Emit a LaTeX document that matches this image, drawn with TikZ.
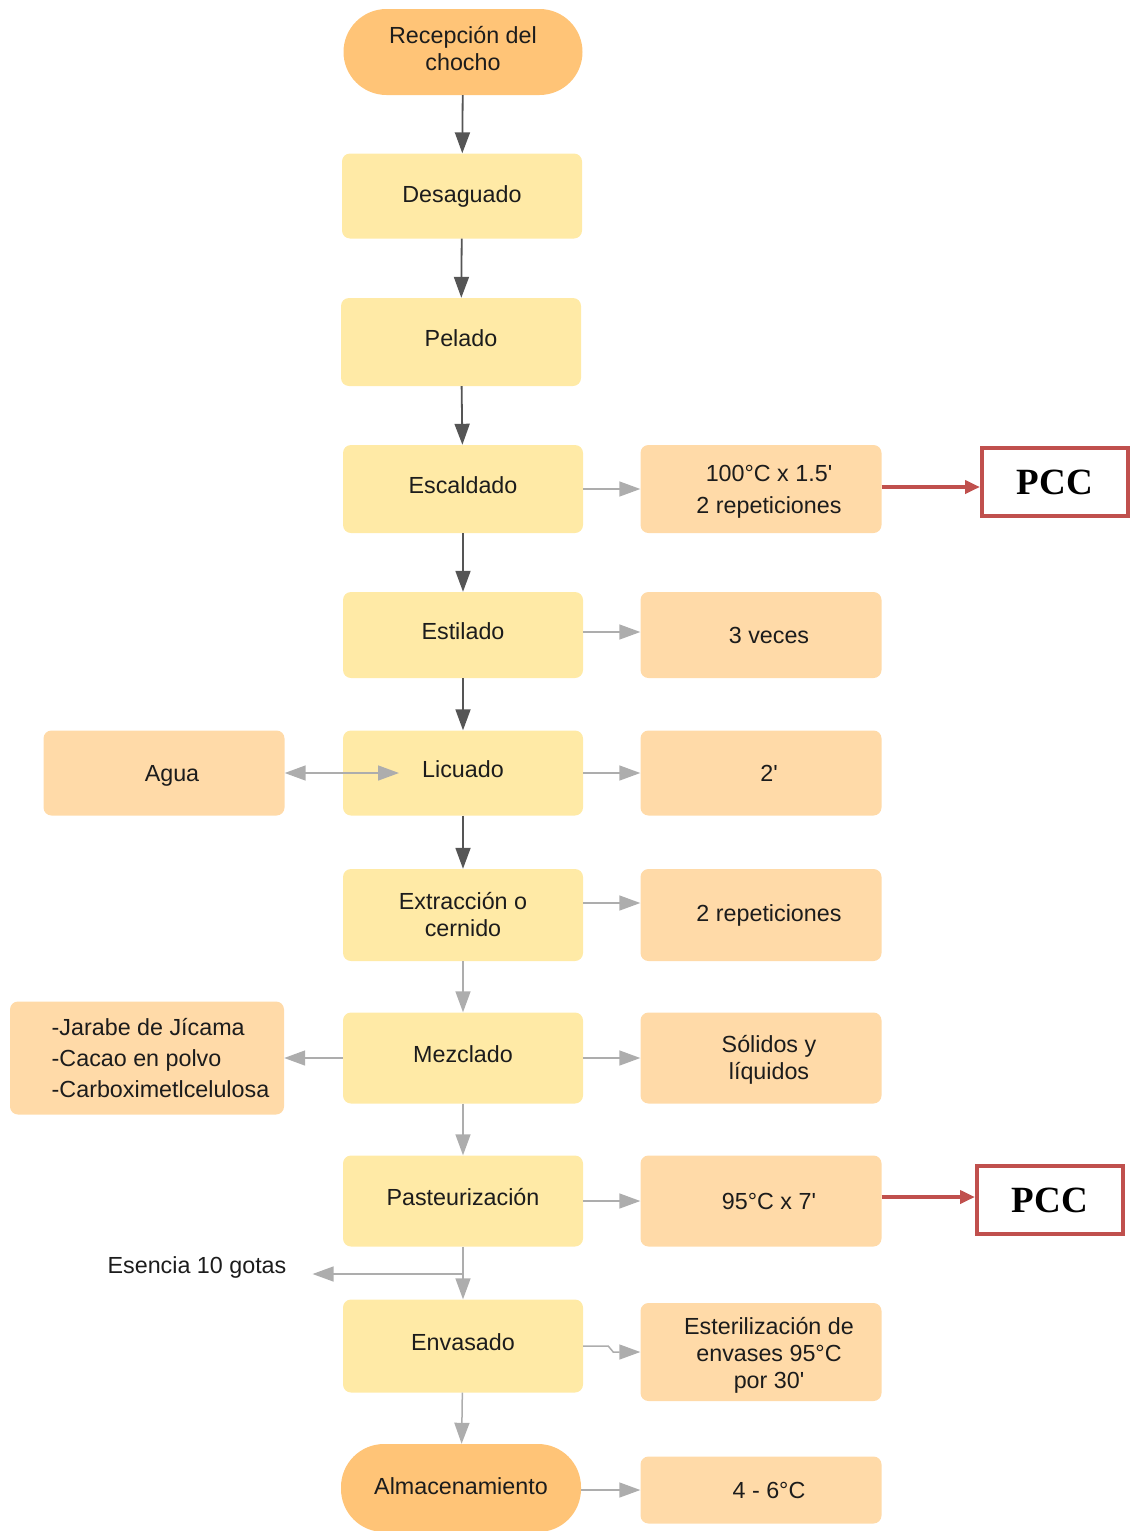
\documentclass[tikz,border=0pt]{standalone}
\usepackage{fontspec}
\setmainfont{Liberation Sans}[Ligatures=TeXOff]
\newfontfamily\pccfont{Liberation Serif}
\usetikzlibrary{arrows.meta}

\definecolor{termfill}{HTML}{FFC477}
\definecolor{procfill}{HTML}{FFEAA6}
\definecolor{sidefill}{HTML}{FFDAA8}
\definecolor{pccred}{HTML}{C0504D}
\definecolor{darkline}{HTML}{555555}
\definecolor{lightline}{HTML}{ADADAD}
\definecolor{inktext}{HTML}{1C1C1C}

% side labels sit a little right of their box centre
\newcommand\padl{\hspace*{16pt}}

\tikzset{
  base/.style={font=\fontsize{23.3}{27}\selectfont, text=inktext, align=center, inner sep=0pt},
  proc/.style={base, fill=procfill, rounded corners=8pt, minimum width=240pt, minimum height=88pt},
  oneline/.style={text height=17pt, text depth=7.4pt},
  side/.style={base, fill=sidefill, rounded corners=8pt, minimum width=241pt, minimum height=88pt},
  term/.style={base, fill=termfill, rounded corners=43pt, minimum width=239pt, minimum height=86pt},
  pcc/.style={draw=pccred, line width=4pt, fill=white, inner sep=0pt,
    font=\pccfont\bfseries\fontsize{37}{40}\selectfont, minimum width=146pt, minimum height=68pt},
  flowdark/.style={draw=darkline, line width=1.8pt, -{Triangle[length=21pt,width=15pt]}},
  flowlight/.style={draw=lightline, line width=1.5pt, -{Triangle[length=21pt,width=15pt]}},
  pccarrow/.style={draw=pccred, line width=4pt, -{Triangle[length=15pt,width=13pt]}}
}

\begin{document}
\begin{tikzpicture}[x=1pt, y=-1pt]
\useasboundingbox (0,0) rectangle (1139,1531);

% main process column
\node[term] (recep) at (463,52) {Recepción del\\chocho\rule[-6.5pt]{0pt}{0pt}};
\node[proc, text height=17pt, text depth=4.4pt, minimum height=85pt] (desag) at (462,196) {Desaguado};
\node[proc, oneline] (pelado) at (461,342) {Pelado};
\node[proc, oneline] (escal) at (463,489) {Escaldado};
\node[proc, oneline, minimum height=86pt] (estil) at (463,635) {Estilado};
\node[proc, oneline, minimum height=85pt] (licua) at (463,773) {Licuado};
\node[proc, minimum height=92pt] (extr) at (463,915) {Extracción o\\cernido};
\node[proc, oneline, minimum height=91pt] (mezcl) at (463,1058) {Mezclado};
\node[proc, oneline, minimum height=91pt] (paste) at (463,1201) {Pasteurización};
\node[proc, oneline, minimum height=93pt] (envas) at (463,1346) {Envasado};
\node[term, text height=17pt, text depth=4.4pt, minimum height=88pt, minimum width=240pt] (almac) at (461,1488) {Almacenamiento};

% process conditions
\node[side, font=\fontsize{23.3}{32}\selectfont] (cond1) at (761,489)
  {\padl\rule{0pt}{22.5pt}100°C x 1.5'\\\padl 2 repeticiones};
\node[side, minimum height=86pt] (cond2) at (761,635) {\padl 3 veces};
\node[side, minimum height=85pt] (cond3) at (761,773) {\padl 2'};
\node[side, minimum height=92pt] (cond4) at (761,915) {\padl 2 repeticiones};
\node[side, minimum height=91pt] (cond5) at (761,1058) {\padl\rule{0pt}{21pt}Sólidos y\\\padl líquidos};
\node[side, minimum height=91pt] (cond6) at (761,1201) {\padl 95°C x 7'};
\node[side, minimum height=98pt] (cond7) at (761,1352)
  {\padl\rule{0pt}{23pt}Esterilización de\\\padl envases 95°C\\\padl por 30'};
\node[side, minimum height=67pt] (cond8) at (761,1490) {\padl 4 - 6°C};

% inputs
\node[side, text height=17pt, text depth=0.4pt, minimum height=85pt] (agua) at (164,773) {\padl Agua};
\node[side, align=left, minimum width=274pt, minimum height=113pt, font=\fontsize{23.3}{31}\selectfont] (ingr) at (147,1058)
  {\hspace*{27pt}-Jarabe de Jícama\\\hspace*{27pt}-Cacao en polvo\\\hspace*{27pt}-Carboximetlcelulosa};
\node[base] (esencia) at (197,1267) {Esencia 10 gotas};

% critical control points
\node[pcc] (pcc1) at (1055,482) {PCC};
\node[pcc] (pcc2) at (1050,1200) {PCC};

% main flow
\draw[flowdark] (recep) -- (desag);
\draw[flowdark] (desag) -- (pelado);
\draw[flowdark] (pelado) -- (escal);
\draw[flowdark] (escal) -- (estil);
\draw[flowdark] (estil) -- (licua);
\draw[flowdark] (licua) -- (extr);
\draw[flowlight] (extr) -- (mezcl);
\draw[flowlight] (mezcl) -- (paste);
\draw[flowlight] (paste) -- (envas);
\draw[flowlight] (envas) -- (almac);

% side connectors
\draw[flowlight] (escal.east) -- (cond1.west);
\draw[flowlight] ([yshift=3pt]estil.east) -- ([yshift=3pt]cond2.west);
\draw[flowlight] (licua.east) -- (cond3.west);
\draw[flowlight] ([yshift=12pt]extr.east) -- ([yshift=12pt]cond4.west);
\draw[flowlight] (mezcl.east) -- (cond5.west);
\draw[flowlight] (paste.east) -- (cond6.west);
\draw[flowlight] (envas.east) -- ++(25,0) -- ++(5,6) -- (cond7.west);
\draw[flowlight] (almac.east |- cond8.west) -- (cond8.west);

% water in, ingredients and essence out
\coordinate (licuain) at (399,773);
\draw[flowlight, {Triangle[length=21pt,width=15pt]}-{Triangle[length=21pt,width=15pt]}] (agua.east) -- (licuain);
\draw[flowlight] (mezcl.west) -- (ingr.east);
\coordinate (esjoin) at (463,1274);
\draw[flowlight, shorten >=26pt] (esjoin) -- (esencia.east |- esjoin);

% links to the critical control points
\draw[pccarrow] ([yshift=2pt]cond1.east) -- ([yshift=2pt]cond1.east -| pcc1.west);
\draw[pccarrow] ([yshift=4pt]cond6.east) -- ([yshift=4pt]cond6.east -| pcc2.west);
\end{tikzpicture}
\end{document}
